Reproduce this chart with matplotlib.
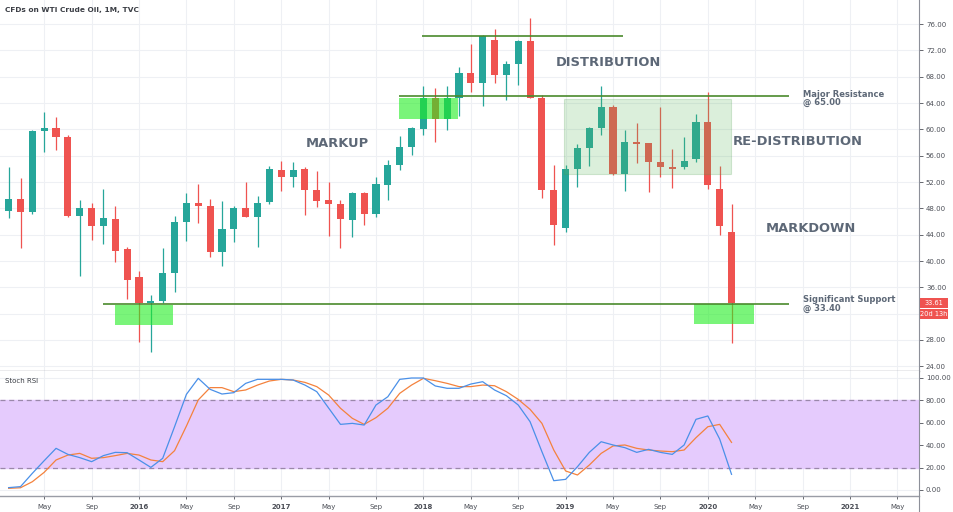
import matplotlib
matplotlib.use("Agg")
import matplotlib.pyplot as plt
from matplotlib.patches import Rectangle
from matplotlib.lines import Line2D
import pandas as pd

# monthly bars, Feb 2015 .. Mar 2020
months = pd.period_range("2015-02", "2020-03", freq="M")

opens = [47.64, 49.41, 47.49, 59.75, 60.26, 58.90, 46.83, 48.10, 45.36, 46.33, 41.77,
         37.62, 33.57, 33.87, 38.12, 45.92, 48.76, 48.35, 41.41, 44.81, 48.05, 46.73, 48.91,
         53.83, 52.82, 53.93, 50.78, 49.26, 48.65, 46.23, 50.27, 47.08, 51.55, 54.59, 57.37,
         60.05, 64.71, 61.57, 64.81, 68.51, 67.00, 73.57, 68.26, 69.88, 73.47, 64.81, 50.78,
         44.96, 53.93, 57.22, 60.16, 63.35, 53.22, 58.13, 57.88, 55.00, 54.23, 54.23, 55.50,
         61.07, 50.94, 44.35]
highs = [54.33, 52.56, 59.90, 62.59, 61.83, 59.20, 49.26, 48.86, 50.88, 48.35, 42.17,
         38.53, 34.83, 41.92, 46.83, 50.27, 51.64, 49.36, 49.11, 48.35, 52.05, 49.87, 54.48,
         55.20, 55.00, 54.30, 53.70, 52.06, 49.26, 50.50, 50.50, 52.82, 55.35, 59.04, 60.40,
         66.59, 66.23, 66.59, 69.52, 72.92, 74.30, 75.19, 70.44, 73.50, 76.87, 65.20, 54.59,
         54.60, 57.73, 60.40, 66.59, 63.70, 59.90, 60.90, 58.00, 63.35, 56.97, 58.79, 62.33,
         65.73, 54.49, 48.65]
lows = [46.58, 42.02, 47.08, 56.51, 56.87, 46.70, 37.77, 43.19, 42.53, 39.89, 34.22,
        27.64, 26.12, 33.57, 35.24, 43.03, 45.82, 40.65, 39.24, 42.83, 46.63, 42.17, 48.60,
        50.70, 51.20, 46.98, 48.25, 43.80, 42.02, 43.70, 45.46, 46.63, 49.26, 53.83, 56.10,
        59.10, 58.13, 59.90, 62.10, 65.73, 63.60, 67.00, 64.46, 66.74, 64.71, 49.50, 42.43,
        44.35, 51.30, 54.49, 59.10, 53.00, 50.69, 54.84, 50.54, 52.82, 51.04, 54.00, 55.00,
        50.89, 43.95, 27.49]
closes = [49.41, 47.39, 59.75, 60.26, 58.84, 46.83, 48.10, 45.36, 46.48, 41.57, 37.11,
          33.67, 33.87, 38.12, 45.92, 48.76, 48.40, 41.31, 44.81, 48.10, 46.73, 48.86, 53.93,
          52.82, 53.83, 50.78, 49.16, 48.65, 46.33, 50.27, 47.08, 51.64, 54.59, 57.37, 60.16,
          64.71, 61.57, 64.81, 68.51, 67.00, 74.23, 68.26, 69.88, 73.47, 64.81, 50.78, 45.46,
          53.93, 57.22, 60.16, 63.45, 53.22, 58.13, 57.78, 55.00, 54.23, 54.00, 55.25, 61.17,
          51.55, 45.31, 33.61]

stoch_k = [2.1, 3.0, 14.9, 26.2, 37.2, 31.8, 28.9, 25.3, 30.7, 33.6, 33.3,
           26.8, 20.2, 28.3, 56.5, 85.4, 99.7, 89.9, 85.7, 86.9, 95.2, 98.8, 98.8,
           98.8, 98.2, 93.7, 87.8, 73.2, 58.6, 59.5, 58.0, 75.9, 83.3, 98.8, 100.0,
           100.0, 92.9, 90.8, 90.8, 94.6, 96.7, 89.3, 84.2, 75.9, 61.0, 34.2, 8.3,
           9.5, 20.8, 33.6, 43.1, 40.2, 37.8, 33.6, 36.3, 33.6, 31.8, 40.2, 63.1,
           66.1, 45.5, 14.0]
stoch_d = [1.5, 2.0, 7.4, 15.8, 26.8, 31.2, 32.7, 28.3, 28.9, 30.7, 32.7,
           31.2, 26.8, 25.3, 35.1, 57.1, 80.4, 91.4, 91.4, 87.8, 89.3, 93.7, 97.3,
           98.8, 98.2, 96.1, 92.3, 84.8, 73.0, 64.0, 58.6, 64.6, 73.0, 86.3, 93.7,
           99.7, 97.6, 95.2, 92.3, 92.3, 93.7, 93.1, 87.8, 80.9, 72.0, 59.5, 35.7,
           17.0, 13.4, 22.3, 32.7, 39.3, 40.2, 37.2, 35.7, 34.8, 34.2, 35.7, 46.7,
           56.5, 58.6, 42.5]

price_ticks = list(range(24, 80, 4))
stoch_ticks = [0, 20, 40, 60, 80, 100]
resistance = 65.00
support = 33.40
top_level = 74.2
last_price = "33.61"
countdown = "20d 13h"

# month index, 0 = Jan 2016
xs = [(p.year - 2016) * 12 + p.month - 1 for p in months]

W, H = 954, 512
UP, DOWN = "#26a69a", "#ef5350"
TXT = "#5d6877"
LINE = "#4a8a2c"
GRID = "#eef0f4"

fig = plt.figure(figsize=(W / 100, H / 100), dpi=100)
ax = fig.add_axes([0, 1 - 371 / H, 919 / W, 371 / H])
ax2 = fig.add_axes([0, 1 - 496 / H, 919 / W, 125 / H], sharex=ax)

xt = list(range(-8, 65, 4))
for a in (ax, ax2):
    a.set_xlim(-11.73, 65.82)
    for t in xt:
        a.axvline(t, color=GRID, lw=0.8, zorder=0)
    for s in ("left", "top"):
        a.spines[s].set_visible(False)
    a.spines["right"].set_color("#8d9099")
    a.spines["bottom"].set_color("#9a9da6")
    a.spines["right"].set_linewidth(0.8)
    a.spines["bottom"].set_linewidth(1.0)
    a.yaxis.tick_right()
    a.tick_params(axis="y", labelsize=5, colors="#4c4f57", length=3, pad=2, width=0.6)
    a.set_facecolor("white")

# ---- price pane
ax.set_ylim(23.29, 79.65)
ax.set_yticks(price_ticks)
# the 32.00 label sits under the countdown tag, as on the original scale
ax.set_yticklabels(["" if v == 32 else f"{v:.2f}" for v in price_ticks])
for v in price_ticks:
    ax.axhline(v, color=GRID, lw=0.8, zorder=0)
ax.tick_params(axis="x", bottom=False, labelbottom=False)

for x, o, h, l, c in zip(xs, opens, highs, lows, closes):
    col = UP if c >= o else DOWN
    ax.vlines(x, l, h, color=col, lw=0.9, zorder=2)
    ax.bar(x, max(abs(c - o), 0.12), bottom=min(o, c), width=0.6, color=col, zorder=3)

# annotations
ax.hlines(top_level, 23.85, 40.85, color=LINE, lw=1.2, zorder=5)
ax.hlines(resistance, 21.94, 54.85, color=LINE, lw=1.2, zorder=5)
ax.hlines(support, -3.04, 54.85, color=LINE, lw=1.2, zorder=5)
ax.add_patch(Rectangle((21.94, 61.57), 4.96, 3.24, facecolor="#22ee22", alpha=0.6,
                       edgecolor="none", zorder=4))
ax.add_patch(Rectangle((-2.03, 30.3), 4.93, 3.0, facecolor="#22ee22", alpha=0.6,
                       edgecolor="none", zorder=4))
ax.add_patch(Rectangle((46.86, 30.4), 5.04, 3.0, facecolor="#22ee22", alpha=0.6,
                       edgecolor="none", zorder=4))
ax.add_patch(Rectangle((35.9, 53.2), 14.03, 11.4, facecolor="#5cb85c", alpha=0.22,
                       edgecolor="#4a9a4a", lw=0.8, zorder=4))

big = dict(fontsize=9.4, fontweight="bold", color=TXT, ha="center", va="center", zorder=6)
ax.text(16.7, 57.9, "MARKUP", **big)
ax.text(39.6, 70.1, "DISTRIBUTION", **big)
ax.text(55.6, 58.1, "RE-DISTRIBUTION", **big)
ax.text(56.7, 45.0, "MARKDOWN", **big)
small = dict(fontsize=6, fontweight="bold", color=TXT, ha="left", va="center",
             linespacing=0.9, zorder=6)
ax.text(56.03, 64.7, f"Major Resistance\n@ {resistance:.2f}", **small)
ax.text(56.03, 33.45, f"Significant Support\n@ {support:.2f}", **small)

# ---- stoch rsi pane
ax2.set_ylim(-5.36, 106.25)
ax2.axhspan(20, 80, color="#e5cbfd", zorder=0)
for v in (0, 100):
    ax2.axhline(v, color=GRID, lw=0.8, zorder=0)
ax2.axhline(80, color="#9a88aa", lw=0.9, ls=(0, (4, 3)), zorder=1)
ax2.axhline(20, color="#9a88aa", lw=0.9, ls=(0, (4, 3)), zorder=1)
ax2.plot(xs, stoch_d, color="#f4823d", lw=0.9, zorder=3)
ax2.plot(xs, stoch_k, color="#4a90e8", lw=0.9, zorder=4)
ax2.set_yticks(stoch_ticks)
ax2.set_yticklabels([f"{v:.2f}" for v in stoch_ticks])

mon = ["Jan", "Feb", "Mar", "Apr", "May", "Jun", "Jul", "Aug", "Sep", "Oct", "Nov", "Dec"]
ax2.set_xticks(xt)
ax2.set_xticklabels([str(2016 + t // 12) if t % 12 == 0 else mon[t % 12] for t in xt])
ax2.tick_params(axis="x", labelsize=5, colors="#4c4f57", length=2, width=0.6,
                pad=4)
for lab, t in zip(ax2.get_xticklabels(), xt):
    if t % 12 == 0:
        lab.set_fontweight("bold")

# right axis line continues through the time scale
fig.add_artist(Line2D([919 / W, 919 / W], [0, 16 / H], color="#8d9099", lw=0.8))

fig.text(5 / W, 1 - 10 / H, "CFDs on WTI Crude Oil, 1M, TVC", fontsize=5.3,
         color="#3a3d44", fontweight="semibold", va="center")
fig.text(5 / W, 1 - 381 / H, "Stoch RSI", fontsize=5, color="#3a3d44", va="center")

# last price / countdown tags on the price scale
for label, top, bot in ((last_price, 298, 307.5), (countdown, 309, 318.5)):
    fig.add_artist(Rectangle((920 / W, 1 - bot / H), 28 / W, (bot - top) / H,
                             facecolor=DOWN, edgecolor="none",
                             transform=fig.transFigure))
    fig.text(934 / W, 1 - (top + bot) / 2 / H, label, fontsize=4.8, color="white",
             ha="center", va="center")

fig.savefig("out.png", dpi=100)
